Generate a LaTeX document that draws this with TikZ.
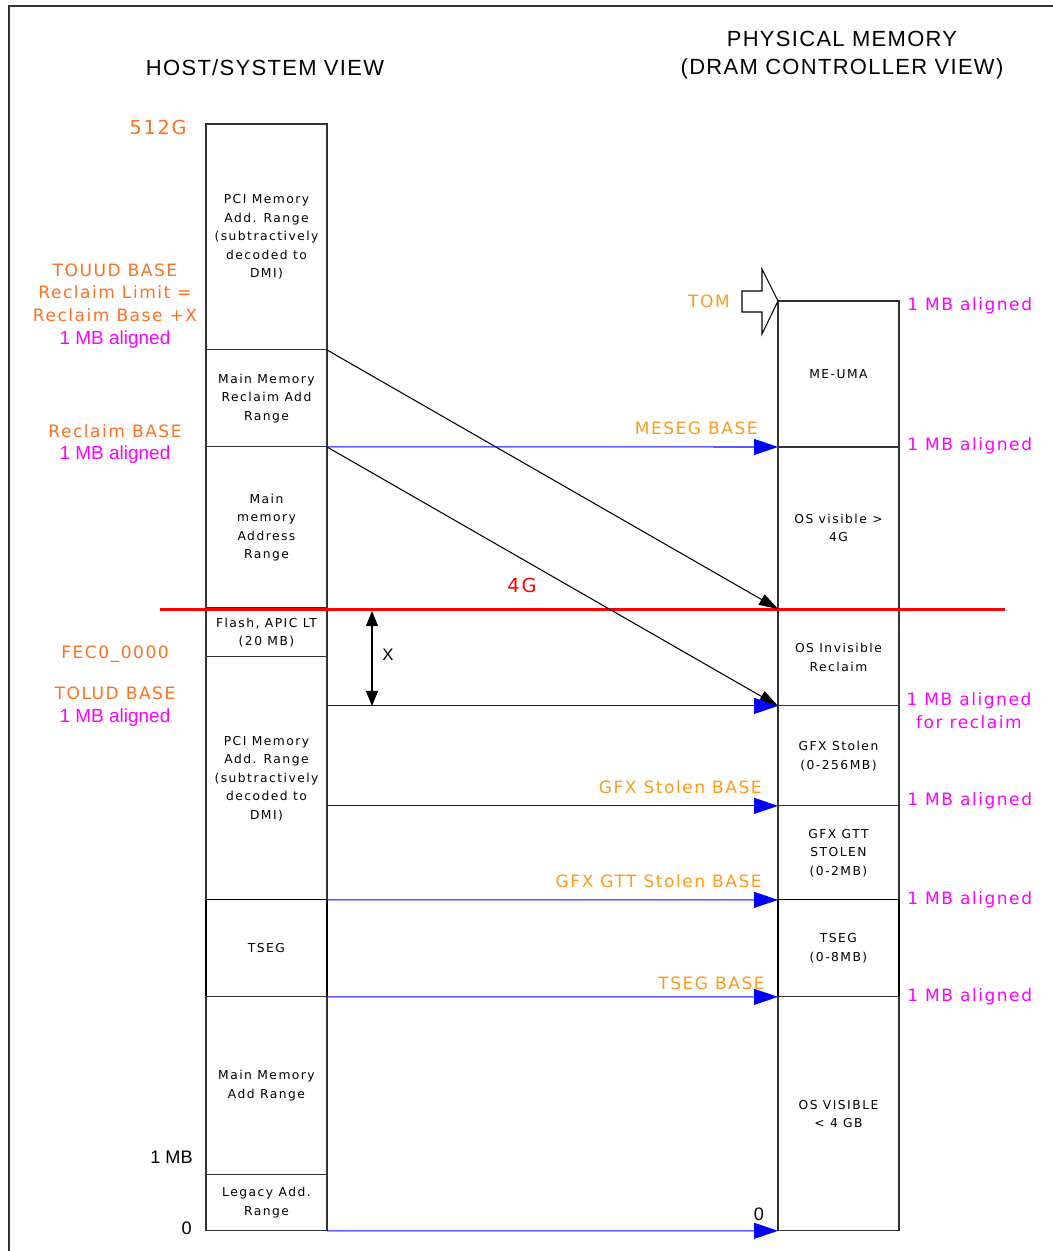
\documentclass[tikz,border=0pt]{standalone}
\usepackage{fontspec}
\setmainfont{DejaVu Sans}
\newfontfamily\boxfont[LetterSpace=12]{DejaVu Sans}
\newfontfamily\lblfont[LetterSpace=9]{DejaVu Sans}
\newfontfamily\arialfont{Liberation Sans}
\newfontfamily\headfont[LetterSpace=6]{Liberation Sans}
\usetikzlibrary{arrows.meta,calc,positioning}
\definecolor{LeftOrange}{HTML}{FF7020}
\definecolor{RightOrange}{HTML}{FF9A1A}
\definecolor{AlignPink}{HTML}{FF00FF}

\tikzset{
  membox/.style={draw=black!80,line width=0.6pt,minimum width=2.42cm,minimum height=#1,
    inner sep=0pt,outer sep=0pt,align=center,font=\boxfont\fontsize{7}{10.5}\selectfont},
  headlbl/.style={inner sep=0pt,align=center,font=\headfont\fontsize{12.5}{15.9}\selectfont},
  hostlbl/.style={inner sep=0pt,align=center,text=LeftOrange,font=\lblfont\fontsize{9.7}{13}\selectfont},
  dramlbl/.style={inner sep=0pt,anchor=east,text=RightOrange,font=\lblfont\fontsize{9.7}{13}\selectfont},
  alignlbl/.style={inner sep=0pt,align=center,text=AlignPink,font=\lblfont\fontsize{9.7}{13}\selectfont},
  addrlbl/.style={inner sep=0pt,anchor=east,font=\arialfont\fontsize{10.3}{11}\selectfont},
  maparrow/.style={blue,line width=0.6pt,-{Triangle[length=0.48cm,width=0.32cm]}},
  reclaimarrow/.style={black,line width=0.6pt,-{Triangle[length=0.38cm,width=0.24cm]}},
  spanarrow/.style={black,line width=0.6pt,
    {Triangle[length=0.3cm,width=0.24cm]}-{Triangle[length=0.3cm,width=0.24cm]}},
}
\newcommand{\pinkmb}{{\arialfont\fontsize{10.8}{13}\selectfont\color{AlignPink}1 MB aligned}}

\begin{document}
\begin{tikzpicture}[x=0.02cm,y=-0.02cm]
\useasboundingbox (0,0) rectangle (1053,1251);
\draw[line width=0.8pt,black!80] (9,1251) -- (9,6) -- (1053,6);

% headings
\node[headlbl] (hosthead) at (265,68) {HOST/SYSTEM VIEW};
\node[headlbl] (dramhead) at (842,55) {PHYSICAL MEMORY\\(DRAM CONTROLLER VIEW)};

% host / system view
\node[membox=4.52cm,anchor=north west] (pciA) at (206,124)
  {PCI Memory\\Add. Range\\(subtractively\\decoded to\\DMI)};
\node[membox=1.94cm,below=0pt of pciA] (reclaim) {Main Memory\\Reclaim Add\\Range};
\node[membox=3.22cm,below=0pt of reclaim] (mainA) {Main\\memory\\Address\\Range};
\node[membox=0.98cm,below=0pt of mainA] (flash) {Flash, APIC LT\\(20 MB)};
\node[membox=4.86cm,below=0pt of flash] (pciB)
  {PCI Memory\\Add. Range\\(subtractively\\decoded to\\DMI)};
\node[membox=1.94cm,below=0pt of pciB,draw=black] (tsegL) {TSEG};
\node[membox=3.56cm,below=0pt of tsegL] (mainB) {Main Memory\\Add Range};
\node[membox=1.12cm,below=0pt of mainB] (legacy) {Legacy Add.\\Range};

% dram controller view
\node[membox=2.92cm,anchor=north west] (meuma) at (778,301) {ME-UMA};
\node[membox=3.24cm,below=0pt of meuma] (osvis) {OS visible >\\4G};
\node[membox=1.94cm,below=0pt of osvis] (osinv) {OS Invisible\\Reclaim};
\node[membox=2.00cm,below=0pt of osinv] (gfx) {GFX Stolen\\(0-256MB)};
\node[membox=1.88cm,below=0pt of gfx] (gtt) {GFX GTT\\STOLEN\\(0-2MB)};
\node[membox=1.94cm,below=0pt of gtt,draw=black] (tsegR) {TSEG\\(0-8MB)};
\node[membox=4.68cm,below=0pt of tsegR] (oslow) {OS VISIBLE\\< 4 GB};

% TOM pointer
\draw[line width=0.6pt,fill=white] (meuma.north west) -- ++(-16,-32) -- ++(0,22) -- ++(-20,0)
  -- ++(0,21) -- ++(20,0) -- ++(0,22) -- cycle;

% left labels
\node[hostlbl,font=\lblfont\fontsize{11}{13}\selectfont,anchor=east] (top512) at (187,127) {512G};
\node[hostlbl] (touud) at (115,306) {TOUUD BASE\\Reclaim Limit =\\Reclaim Base +X\\\pinkmb};
\node[hostlbl] (reclbase) at (115,444) {Reclaim BASE\\\pinkmb};
\node[hostlbl] (fec) at (115,654) {FEC0\_0000};
\node[hostlbl] (tolud) at (115,707) {TOLUD BASE\\\pinkmb};
\node[addrlbl] (onemb) at (193,1157) {1 MB};
\node[addrlbl] (zeroL) at (192,1228) {0};

% 4G boundary
\coordinate (fourL) at (160,609);
\coordinate (fourR) at (1005,609);
\draw[red,line width=1.7pt] (fourL) -- (fourR);
\node[inner sep=0pt,text=red,font=\lblfont\fontsize{11}{13}\selectfont] (fourG) at (522,585) {4G};

% remap arrows
\draw[reclaimarrow] (pciA.south east) -- (osvis.south west);
\draw[reclaimarrow] (reclaim.south east) -- (osinv.south west);
\draw[maparrow] (reclaim.south east) -- (meuma.south west);
\draw[maparrow] (osinv.south west -| pciB.east) -- (osinv.south west);
\draw[maparrow] (gfx.south west -| pciB.east) -- (gfx.south west);
\draw[maparrow] (pciB.south east) -- (gtt.south west);
\draw[maparrow] (tsegL.south east) -- (tsegR.south west);
\draw[maparrow] (legacy.south east) -- (oslow.south west);

\coordinate (xtop) at (372,611);
\draw[spanarrow] (xtop) -- (xtop |- osinv.south);
\node[inner sep=0pt,font=\arialfont\fontsize{9.5}{11}\selectfont] (xlbl) at (388,655) {X};

% right labels
\node[dramlbl,anchor=center] (tom) at (709,301) {TOM};
\node[dramlbl] (meseg) at (758,428) {MESEG BASE};
\node[dramlbl] (gfxbase) at (762,787) {GFX Stolen BASE};
\node[dramlbl] (gttbase) at (762,881) {GFX GTT Stolen BASE};
\node[dramlbl] (tsegbase) at (765,983) {TSEG BASE};
\node[addrlbl,anchor=center] (zeroR) at (759,1214) {0};

\node[alignlbl,anchor=west] (algnA) at (907,306) {1 MB aligned};
\node[alignlbl,anchor=west] (algnB) at (907,446) {1 MB aligned};
\node[alignlbl] (algnC) at (969,711) {1 MB aligned\\for reclaim};
\node[alignlbl,anchor=west] (algnD) at (907,801) {1 MB aligned};
\node[alignlbl,anchor=west] (algnE) at (907,900) {1 MB aligned};
\node[alignlbl,anchor=west] (algnF) at (907,997) {1 MB aligned};
\end{tikzpicture}
\end{document}
